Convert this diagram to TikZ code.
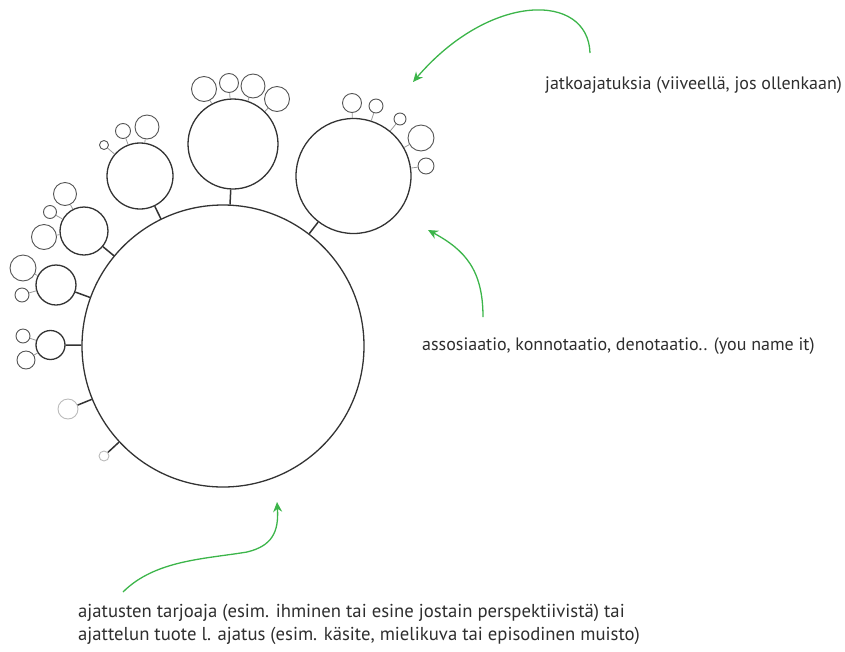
\documentclass[tikz,border=0pt]{standalone}
\usepackage{fontspec}
\setmainfont{PT Sans}
\usetikzlibrary{arrows.meta}
\definecolor{ink}{HTML}{333333}
\definecolor{smallink}{HTML}{555555}
\definecolor{stubink}{HTML}{999999}
\definecolor{faint}{HTML}{BBBBBB}
\definecolor{arrowgreen}{HTML}{3CB54A}
\definecolor{textink}{HTML}{2E2E2E}
\tikzset{
  bigc/.style={circle, draw=ink, line width=1.3pt, inner sep=0pt, minimum size=#1},
  smallc/.style={circle, draw=smallink, line width=0.9pt, inner sep=0pt, minimum size=#1},
  faintc/.style={circle, draw=faint, line width=0.9pt, inner sep=0pt, minimum size=#1},
  mainstub/.style={draw=ink, line width=1.5pt},
  smallstub/.style={draw=stubink, line width=0.8pt},
  greenarrow/.style={draw=arrowgreen, line width=1.3pt, -{Stealth[length=10pt, width=9pt]}},
  label/.style={font=\fontsize{18}{22.5}\selectfont, text=textink, inner sep=0pt, align=left},
  biglabel/.style={font=\fontsize{18.7}{23}\selectfont, text=textink, inner sep=0pt, align=left}
}
\begin{document}
\begin{tikzpicture}[x=1pt, y=-1pt]
\useasboundingbox (0,0) rectangle (845,651);
% main circle
\node[bigc=282pt] (main) at (223,346) {};
% first-level circles
\node[bigc=90pt] (A) at (233,144) {};
\node[bigc=115pt] (B) at (353.5,176) {};
\node[bigc=66pt] (C) at (140,176) {};
\node[bigc=48pt] (D) at (84,231) {};
\node[bigc=40pt] (E) at (56,285) {};
\node[bigc=29pt] (F) at (50.5,345) {};
\node[faintc=20pt] (G) at (68,409) {};
\node[faintc=10pt] (H) at (104,456) {};
% second-level circles
\node[smallc=25pt] (A1) at (204,89) {};
\node[smallc=19pt] (A2) at (229,83) {};
\node[smallc=24pt] (A3) at (253,86) {};
\node[smallc=25pt] (A4) at (277,99) {};
\node[smallc=19pt] (B1) at (352,103) {};
\node[smallc=14pt] (B2) at (376,106) {};
\node[smallc=12pt] (B3) at (400,119) {};
\node[smallc=26pt] (B4) at (421,138) {};
\node[smallc=16pt] (B5) at (426,166) {};
\node[smallc=24pt] (C1) at (147,127) {};
\node[smallc=15pt] (C2) at (123,131) {};
\node[smallc=9pt] (C3) at (104,145) {};
\node[smallc=23pt] (D1) at (65,194) {};
\node[smallc=13pt] (D2) at (50,212) {};
\node[smallc=25pt] (D3) at (44,237) {};
\node[smallc=26pt] (E1) at (23,268) {};
\node[smallc=14pt] (E2) at (22,295) {};
\node[smallc=14pt] (F1) at (23,336) {};
\node[smallc=18pt] (F2) at (26,360) {};
% stubs main -> first level
\foreach \c in {A,B,C,D,E,F,G,H} \path[mainstub] (main) -- (\c);
% stubs first -> second level
\foreach \p/\c in {A/A1,A/A2,A/A3,A/A4,B/B1,B/B2,B/B3,B/B4,B/B5,C/C1,C/C2,C/C3,D/D1,D/D2,D/D3,E/E1,E/E2,F/F1,F/F2}
  \path[smallstub] (\p) -- (\c);
% labels
\node[label, anchor=base west] (t1) at (545,89) {jatkoajatuksia (viiveellä, jos ollenkaan)};
\node[label, anchor=base west] (t2) at (422,350) {assosiaatio, konnotaatio, denotaatio.. (you name it)};
\node[biglabel, anchor=north west] (t3) at (78,604) {ajatusten tarjoaja (esim. ihminen tai esine jostain perspektiivistä) tai\\ajattelun tuote l. ajatus (esim. käsite, mielikuva tai episodinen muisto)};
% arrow endpoints
\coordinate (s1) at (590,53);
\coordinate (e1) at (413,82);
\coordinate (s2) at (483,317);
\coordinate (e2) at (428,230);
\coordinate (s3) at (123,592);
\coordinate (m3) at (247,552);
\coordinate (e3) at (277,502);
\draw[greenarrow] (s1) .. controls (588,-8) and (490,-8) .. (e1);
\draw[greenarrow] (s2) .. controls (483,270) and (465,250) .. (e2);
\draw[greenarrow] (s3) .. controls (155,560) and (205,559) .. (m3) .. controls (272,546) and (279,532) .. (e3);
\end{tikzpicture}
\end{document}
